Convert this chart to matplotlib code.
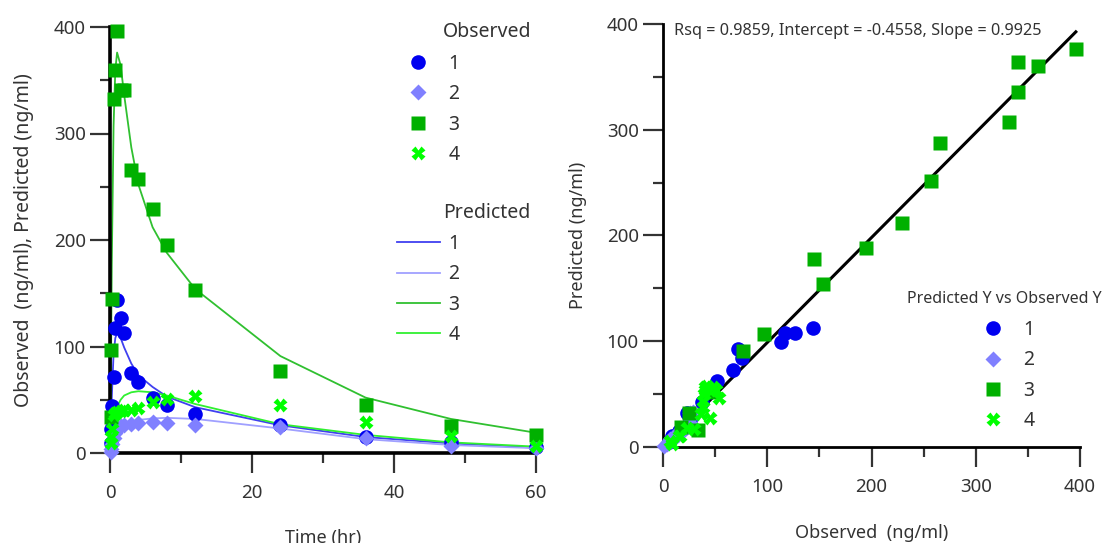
import matplotlib.pyplot as plt

plt.rcParams['font.family'] = ['Noto Sans', 'DejaVu Sans']

# sampling times (hr)
time_hr = [0.083, 0.167, 0.25, 0.5, 0.75, 1, 1.5, 2, 3, 4, 6, 8, 12, 24, 36, 48, 60]

# observed concentrations (ng/ml) per subject
obs_1 = [9, 23, 44, 71.6, 117, 144, 126.5, 113, 75.4, 67, 52, 45, 37, 26, 15, 10, 6]
obs_2 = [1, 4, 8, 14, 19, 23, 25, 26, 27, 28, 29, 28.5, 26.3, 24.7, 13.7, 7, 4.4]
obs_3 = [34, 97, 145, 332, 360, 396, 341, 341, 266, 257, 229, 195, 153, 77, 45, 25, 17]
obs_4 = [9, 15, 23, 36, 38, 38.8, 39, 40, 40.4, 42, 48, 51, 53.8, 45, 29.4, 16, 7]

# model predictions (ng/ml) per subject
pred_1 = [10, 32, 52, 92.5, 108, 112.5, 108, 99, 84, 73, 62, 53, 43, 26, 15, 9, 5]
pred_2 = [1, 3, 6, 11, 15, 19, 24, 27, 29.5, 31, 32.5, 33, 32, 23, 13, 7.5, 4.5]
pred_3 = [16, 107, 178, 307, 360, 376, 364, 336, 287, 252, 212, 188, 154, 91, 52, 32, 19]
pred_4 = [3, 10, 18, 31, 38, 43.5, 50, 54, 57, 58, 57, 54, 46, 27, 17, 10, 6]

subjects = ['1', '2', '3', '4']
observed = [obs_1, obs_2, obs_3, obs_4]
predicted = [pred_1, pred_2, pred_3, pred_4]

# regression of predicted on observed
rsq = 0.9859
intercept = -0.4558
slope = 0.9925

marker_colors = ['#0000f0', '#8080ff', '#00b000', '#00ff00']
line_colors = ['#4040f0', '#a0a0ff', '#30c030', '#30f030']
markers = ['o', 'D', 's', 'X']
msizes = [10.5, 8, 10.5, 9.5]

text_color = '#333333'
W, H = 1107, 543


def fx(px):
    return px / W


def fy(py):
    return 1 - py / H


fig = plt.figure(figsize=(W / 100, H / 100), dpi=100)

ax1 = fig.add_axes([fx(110), fy(453), (536 - 110) / W, (453 - 27) / H])
ax2 = fig.add_axes([fx(663), fy(447), (1080 - 663) / W, (447 - 24) / H])

# left/bottom spines with outward major and minor ticks
for ax, spine_w in [(ax1, 2.6), (ax2, 2.0)]:
    for side in ['top', 'right']:
        ax.spines[side].set_visible(False)
    ax.spines['left'].set_linewidth(spine_w)
    ax.spines['bottom'].set_linewidth(spine_w)
    ax.xaxis.set_tick_params(which='major', bottom=True, direction='out', length=14.5,
                             width=1.6, color='#333333', labelcolor=text_color,
                             labelsize=13.5, pad=8)
    ax.yaxis.set_tick_params(which='major', left=True, direction='out', length=14.5,
                             width=1.6, color='#333333', labelcolor=text_color,
                             labelsize=13.5, pad=3)
    ax.xaxis.set_tick_params(which='minor', bottom=True, direction='out', length=7,
                             width=1.6, color='#333333')
    ax.yaxis.set_tick_params(which='minor', left=True, direction='out', length=7,
                             width=1.6, color='#333333')

# concentration-time profiles
obs_handles = []
pred_handles = []
for i in range(4):
    ln, = ax1.plot(time_hr, predicted[i], color=line_colors[i], lw=1.3, zorder=2)
    pred_handles.append(ln)
for i in range(4):
    pt, = ax1.plot(time_hr, observed[i], linestyle='none', marker=markers[i],
                   ms=msizes[i], color=marker_colors[i], mec='none',
                   clip_on=False, zorder=3)
    obs_handles.append(pt)

ax1.set_xlim(0, 60)
ax1.set_ylim(0, 400)
ax1.set_xticks([0, 20, 40, 60])
ax1.set_xticks([10, 30, 50], minor=True)
ax1.set_yticks([0, 100, 200, 300, 400])
ax1.set_yticks([50, 150, 250, 350], minor=True)
ax1.set_xlabel('Time (hr)', fontsize=13, color=text_color, labelpad=19)
ax1.set_ylabel('Observed  (ng/ml), Predicted (ng/ml)', fontsize=14,
               color=text_color, labelpad=14)

leg_kw = dict(frameon=False, loc='upper left', fontsize=14, borderpad=0,
              borderaxespad=0, handlelength=2.2, handletextpad=0.45,
              labelspacing=0.53, bbox_transform=fig.transFigure)
leg_obs = ax1.legend(obs_handles, subjects, bbox_to_anchor=(fx(397), fy(54)), **leg_kw)
ax1.add_artist(leg_obs)
leg_pred = ax1.legend(pred_handles, subjects, bbox_to_anchor=(fx(397), fy(234)), **leg_kw)
fig.text(fx(443), fy(32), 'Observed', fontsize=14, color=text_color, va='center')
fig.text(fx(443), fy(213), 'Predicted', fontsize=14, color=text_color, va='center')

# predicted vs observed
xy_handles = []
for i in range(4):
    pt, = ax2.plot(observed[i], predicted[i], linestyle='none', marker=markers[i],
                   ms=msizes[i], color=marker_colors[i], mec='none',
                   clip_on=False, zorder=3)
    xy_handles.append(pt)
x_fit = [0, max(obs_3)]
ax2.plot(x_fit, [intercept + slope * x for x in x_fit], color='black', lw=2.2, zorder=2)

ax2.set_xlim(0, 400)
ax2.set_ylim(0, 400)
ax2.set_xticks([0, 100, 200, 300, 400])
ax2.set_xticks([50, 150, 250, 350], minor=True)
ax2.set_yticks([0, 100, 200, 300, 400])
ax2.set_yticks([50, 150, 250, 350], minor=True)
ax2.set_xlabel('Observed  (ng/ml)', fontsize=13, color=text_color, labelpad=20)
ax2.set_ylabel('Predicted (ng/ml)', fontsize=13, color=text_color, labelpad=14)

fig.text(fx(674), fy(31), 'Rsq = %.4f, Intercept = %.4f, Slope = %.4f' % (rsq, intercept, slope),
         fontsize=11.7, color=text_color, va='center')

leg_xy = ax2.legend(xy_handles, subjects, bbox_to_anchor=(fx(972), fy(320)), **leg_kw)
fig.text(fx(907), fy(299), 'Predicted Y vs Observed Y', fontsize=11.5,
         color=text_color, va='center')

for leg in [leg_obs, leg_pred, leg_xy]:
    for txt in leg.get_texts():
        txt.set_color(text_color)

fig.savefig('out.png', dpi=100)
